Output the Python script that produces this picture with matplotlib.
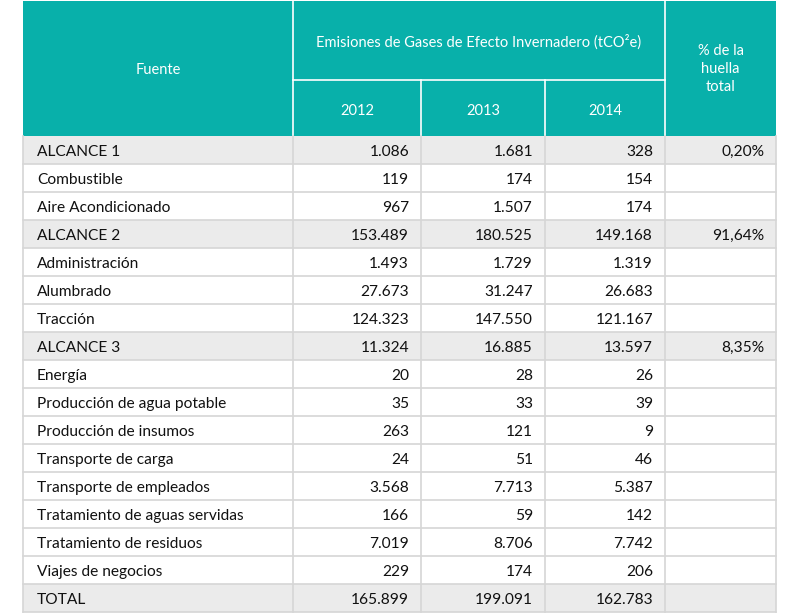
import matplotlib
matplotlib.use('Agg')
import matplotlib.pyplot as plt
from matplotlib.patches import Rectangle

plt.rcParams['font.family'] = ['Lato', 'DejaVu Sans']

# data ==========================================================
fuentes = ['ALCANCE 1', 'Combustible', 'Aire Acondicionado',
           'ALCANCE 2', 'Administración', 'Alumbrado', 'Tracción',
           'ALCANCE 3', 'Energía', 'Producción de agua potable',
           'Producción de insumos', 'Transporte de carga',
           'Transporte de empleados', 'Tratamiento de aguas servidas',
           'Tratamiento de residuos', 'Viajes de negocios', 'TOTAL']
v2012 = ['1.086', '119', '967', '153.489', '1.493', '27.673', '124.323',
         '11.324', '20', '35', '263', '24', '3.568', '166', '7.019', '229',
         '165.899']
v2013 = ['1.681', '174', '1.507', '180.525', '1.729', '31.247', '147.550',
         '16.885', '28', '33', '121', '51', '7.713', '59', '8.706', '174',
         '199.091']
v2014 = ['328', '154', '174', '149.168', '1.319', '26.683', '121.167',
         '13.597', '26', '39', '9', '46', '5.387', '142', '7.742', '206',
         '162.783']
huella = ['0,20%', '', '', '91,64%', '', '', '', '8,35%', '', '', '', '',
          '', '', '', '', '']
anios = ['2012', '2013', '2014']
destacadas = ['ALCANCE 1', 'ALCANCE 2', 'ALCANCE 3', 'TOTAL']

# layout ========================================================
teal = '#08b0aa'
gris = '#ebebeb'
linea = '#d6d6d6'
cols = [23, 293, 421, 545, 665, 776]
top = 1
mid = 80
head = 136
rowH = 28
fsH = 10.5
fs = 11.2

fig = plt.figure(figsize=(8, 6.14), dpi=100)
ax = fig.add_axes([0, 0, 1, 1])
ax.set_xlim(0, 800)
ax.set_ylim(614, 0)
ax.axis('off')

# header
ax.add_patch(Rectangle((cols[0], top), cols[-1] - cols[0], head - top,
                       facecolor=teal, edgecolor='none'))
for x in cols[1:-1]:
    y0 = mid if x in cols[2:4] else top
    ax.plot([x, x], [y0, head], color='white', lw=1.2)
ax.plot([cols[1], cols[4]], [mid, mid], color='white', lw=1.2)
ax.text((cols[0] + cols[1]) / 2, (top + head) / 2 + 1, 'Fuente', color='white',
        fontsize=fsH, ha='center', va='center')
ax.text((cols[1] + cols[4]) / 2, 42,
        'Emisiones de Gases de Efecto Invernadero (tCO²e)', color='white',
        fontsize=fsH, ha='center', va='center')
for i, a in enumerate(anios):
    ax.text((cols[i + 1] + cols[i + 2]) / 2, (mid + head) / 2 + 3, a,
            color='white', fontsize=fsH, ha='center', va='center')
ax.text((cols[4] + cols[5]) / 2, 69, '% de la\nhuella\ntotal', color='white',
        fontsize=fsH, ha='center', va='center', linespacing=1.4)

# body
for r, f in enumerate(fuentes):
    y = head + r * rowH
    if f in destacadas:
        ax.add_patch(Rectangle((cols[0], y), cols[-1] - cols[0], rowH,
                               facecolor=gris, edgecolor='none'))
    ax.plot([cols[0], cols[-1]], [y + rowH, y + rowH], color=linea, lw=1.2)
    yc = y + rowH / 2 + 2
    ax.text(cols[0] + 14, yc, f, fontsize=fs, ha='left', va='center',
            color='#111111')
    for c, vals in enumerate([v2012, v2013, v2014, huella]):
        ax.text(cols[c + 2] - 12, yc, vals[r], fontsize=fs, ha='right',
                va='center', color='#111111')

bottom = head + len(fuentes) * rowH
for x in cols:
    ax.plot([x, x], [head, bottom], color=linea, lw=1.2)

fig.savefig('out.png', dpi=100, facecolor='white')
